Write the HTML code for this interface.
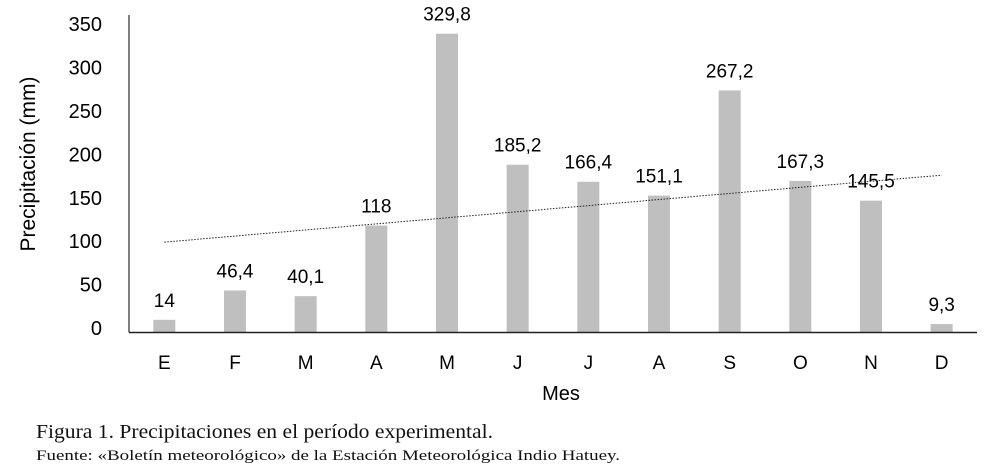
<!DOCTYPE html>
<html><head><meta charset="utf-8"><style>
body{margin:0;background:#fff;width:997px;height:471px;overflow:hidden}
svg text{font-family:"Liberation Sans",sans-serif;fill:#000}
svg text.cap{font-family:"Liberation Serif",serif;fill:#111}
</style></head><body>
<svg width="997" height="471" style="position:absolute;left:0;top:0">
<g id="g"></g>
<text class="cap" x="36" y="438" font-size="20" textLength="457" lengthAdjust="spacingAndGlyphs">Figura 1. Precipitaciones en el período experimental.</text>
<text class="cap" x="36" y="460" font-size="15" textLength="584" lengthAdjust="spacingAndGlyphs">Fuente: «Boletín meteorológico» de la Estación Meteorológica Indio Hatuey.</text>
</svg>
<script>
const categories=["E","F","M","A","M","J","J","A","S","O","N","D"];
const values=[14,46.4,40.1,118,329.8,185.2,166.4,151.1,267.2,167.3,145.5,9.3];
const valueLabels=["14","46,4","40,1","118","329,8","185,2","166,4","151,1","267,2","167,3","145,5","9,3"];
const yTicks=[0,50,100,150,200,250,300,350];
const NS="http://www.w3.org/2000/svg";
const g=document.getElementById('g');
const x0=129,x1=977,base=332.5,k=0.906;
const bw=(x1-x0)/categories.length;
const X=i=>x0+bw*(i+0.5);
const Y=v=>base-v*k;
function mk(t,a,txt){const e=document.createElementNS(NS,t);for(const n in a)e.setAttribute(n,a[n]);if(txt!=null)e.textContent=txt;g.appendChild(e);return e;}
values.forEach((v,i)=>{
 const r=mk('rect',{x:X(i)-11,y:Y(v),width:22,height:v*k,fill:'#bfbfbf'});
 
 
 const t=mk('text',{x:X(i),y:Y(v)-13,'text-anchor':'middle','font-size':19},valueLabels[i]);
 
 
 const c=mk('text',{x:X(i),y:369,'text-anchor':'middle','font-size':19},categories[i]);
 
 
});
yTicks.forEach((v,i)=>{
 const t=mk('text',{x:102,y:335-i*43.4,'text-anchor':'end','font-size':20},String(v));
 
 
});
const n=values.length;let mx=(n+1)/2,my=values.reduce((a,b)=>a+b,0)/n,sxy=0,sxx=0;
values.forEach((v,i)=>{sxy+=(i+1-mx)*(v-my);sxx+=(i+1-mx)**2;});
const sl=sxy/sxx,ic=my-sl*mx;
const tl=mk('line',{x1:X(0),y1:Y(ic+sl),x2:X(n-1),y2:Y(ic+sl*n),stroke:'#222','stroke-width':1,'stroke-dasharray':'1.5,1.5'});


const ya=mk('line',{x1:x0,y1:15,x2:x0,y2:base,stroke:'#555','stroke-width':1.5});


const xa=mk('line',{x1:x0,y1:base,x2:x1,y2:base,stroke:'#222','stroke-width':1.5});


const xt=mk('text',{x:561,y:400,'text-anchor':'middle','font-size':20},'Mes');


const yt=mk('text',{x:0,y:0,'text-anchor':'middle','font-size':21,transform:'translate(35,164) rotate(-90)'},'Precipitación (mm)');


</script>
</body></html>
